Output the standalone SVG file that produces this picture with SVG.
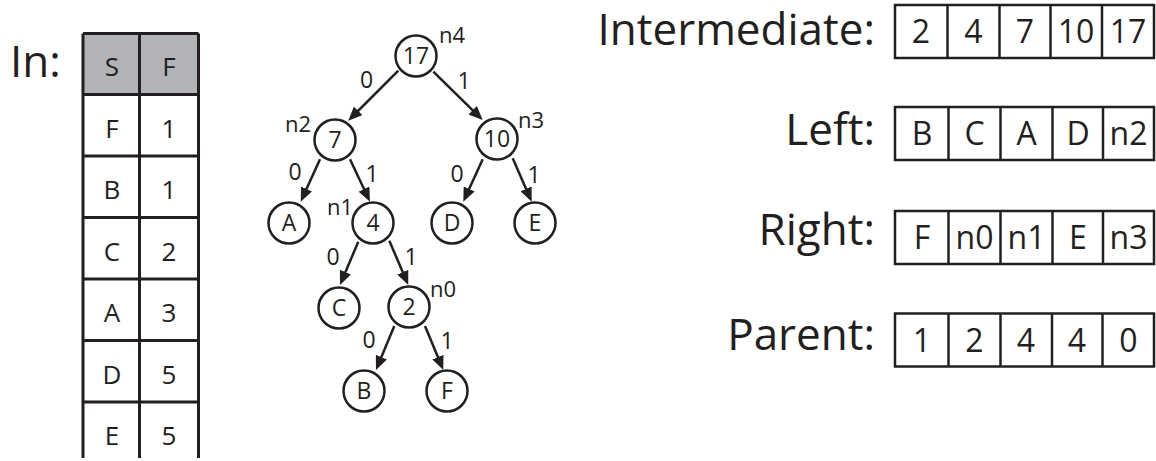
<svg xmlns="http://www.w3.org/2000/svg" width="1156" height="461" viewBox="0 0 1156 461">
<style>
  .t { font-family: "Open Sans", "Liberation Sans", sans-serif; fill: #231f20; }
  .big { font-size: 44px; }
  .lbl { font-size: 44px; text-anchor: end; }
  .cell { font-size: 26px; text-anchor: middle; }
  .arr { font-size: 32px; text-anchor: middle; }
  .node { font-size: 23px; text-anchor: middle; }
  .nm { font-size: 22px; }
  .el { font-size: 23px; text-anchor: middle; }
  .ln { stroke: #231f20; stroke-width: 3; fill: none; }
  .bx { stroke: #231f20; stroke-width: 2.5; fill: #ffffff; }
  .dv { stroke: #231f20; stroke-width: 2.5; }
  .circ { stroke: #231f20; stroke-width: 2.5; fill: #ffffff; }
  .edge { stroke: #231f20; stroke-width: 2.5; fill: none; marker-end: url(#ah); }
</style>
<defs>
  <marker id="ah" markerUnits="userSpaceOnUse" markerWidth="14" markerHeight="12" viewBox="0 0 14 12" refX="8" refY="6" orient="auto">
    <path d="M0,0 L14,6 L0,12 z" fill="#231f20"/>
  </marker>
</defs>
<rect width="1156" height="461" fill="#ffffff"/>

<!-- Input table -->
<g id="input-table">
  <text class="t big" x="10" y="77">In:</text>
  <rect x="83" y="33.5" width="115.5" height="61" fill="#b1b3b6"/>
  <line class="ln" x1="83" y1="33.5" x2="83" y2="458"/>
  <line class="ln" x1="139.5" y1="33.5" x2="139.5" y2="458"/>
  <line class="ln" x1="198.5" y1="33.5" x2="198.5" y2="458"/>
  <line class="ln" x1="83" y1="33.5" x2="198.5" y2="33.5"/>
  <line class="ln" x1="83" y1="94.5" x2="198.5" y2="94.5"/>
  <line class="ln" x1="83" y1="156" x2="198.5" y2="156"/>
  <line class="ln" x1="83" y1="217.5" x2="198.5" y2="217.5"/>
  <line class="ln" x1="83" y1="279" x2="198.5" y2="279"/>
  <line class="ln" x1="83" y1="340.5" x2="198.5" y2="340.5"/>
  <line class="ln" x1="83" y1="402" x2="198.5" y2="402"/>
  <text class="t cell" x="112" y="76">S</text><text class="t cell" x="169" y="76">F</text>
  <text class="t cell" x="112" y="137.5">F</text><text class="t cell" x="169" y="137.5">1</text>
  <text class="t cell" x="112" y="199">B</text><text class="t cell" x="169" y="199">1</text>
  <text class="t cell" x="112" y="260.5">C</text><text class="t cell" x="169" y="260.5">2</text>
  <text class="t cell" x="112" y="322">A</text><text class="t cell" x="169" y="322">3</text>
  <text class="t cell" x="112" y="383.5">D</text><text class="t cell" x="169" y="383.5">5</text>
  <text class="t cell" x="112" y="445">E</text><text class="t cell" x="169" y="445">5</text>
</g>

<!-- Connectors -->
<g id="connectors">
  <line class="edge" x1="398.3" y1="70.7" x2="352.5" y2="116.5"/>
  <line class="edge" x1="433.3" y1="71.7" x2="478.4" y2="115.8"/>
  <line class="edge" x1="320" y1="159.3" x2="303.2" y2="196.2"/>
  <line class="edge" x1="350" y1="159.3" x2="367.4" y2="196.3"/>
  <line class="edge" x1="482.7" y1="159.3" x2="465.8" y2="196.2"/>
  <line class="edge" x1="512.7" y1="158.3" x2="529.3" y2="196.2"/>
  <line class="edge" x1="358.3" y1="241.7" x2="342.3" y2="279.5"/>
  <line class="edge" x1="389.3" y1="240.7" x2="405.9" y2="279.5"/>
  <line class="edge" x1="394.3" y1="326" x2="378.3" y2="364.5"/>
  <line class="edge" x1="425" y1="326" x2="441" y2="364.5"/>
  <g id="edge-labels">
    <text class="t el" x="366.5" y="88">0</text>
    <text class="t el" x="464" y="89">1</text>
    <text class="t el" x="295" y="180">0</text>
    <text class="t el" x="372" y="182">1</text>
    <text class="t el" x="457" y="182">0</text>
    <text class="t el" x="534" y="183">1</text>
    <text class="t el" x="333" y="265">0</text>
    <text class="t el" x="411" y="265">1</text>
    <text class="t el" x="369" y="348">0</text>
    <text class="t el" x="447" y="349">1</text>
  </g>
</g>

<!-- Tree nodes -->
<g id="n4"><circle class="circ" cx="416" cy="56" r="20.5"/><text class="t node" x="416" y="64">17</text><text class="t nm" x="439" y="43">n4</text></g>
<g id="n2"><circle class="circ" cx="335" cy="140" r="20.5"/><text class="t node" x="335" y="148">7</text><text class="t nm" x="285" y="132">n2</text></g>
<g id="n3"><circle class="circ" cx="497" cy="139" r="20.5"/><text class="t node" x="497" y="147">10</text><text class="t nm" x="518" y="128">n3</text></g>
<g id="A"><circle class="circ" cx="289" cy="223" r="20.5"/><text class="t node" x="289" y="231">A</text></g>
<g id="n1"><circle class="circ" cx="373" cy="223" r="20.5"/><text class="t node" x="373" y="231">4</text><text class="t nm" x="327" y="215">n1</text></g>
<g id="D"><circle class="circ" cx="452" cy="223" r="20.5"/><text class="t node" x="452" y="231">D</text></g>
<g id="E"><circle class="circ" cx="535" cy="223" r="20.5"/><text class="t node" x="535" y="231">E</text></g>
<g id="C"><circle class="circ" cx="339" cy="308" r="20.5"/><text class="t node" x="339" y="316">C</text></g>
<g id="n0"><circle class="circ" cx="409" cy="307" r="20.5"/><text class="t node" x="409" y="315">2</text><text class="t nm" x="430" y="297">n0</text></g>
<g id="B"><circle class="circ" cx="364" cy="391" r="20.5"/><text class="t node" x="364" y="399">B</text></g>
<g id="F"><circle class="circ" cx="447" cy="391" r="20.5"/><text class="t node" x="447" y="399">F</text></g>

<!-- Arrays -->
<g id="intermediate">
  <text class="t lbl" x="875" y="45">Intermediate:</text>
  <rect class="bx" x="895" y="5" width="259" height="53"/>
  <line class="dv" x1="947.5" y1="5" x2="947.5" y2="58"/>
  <line class="dv" x1="999.5" y1="5" x2="999.5" y2="58"/>
  <line class="dv" x1="1050.5" y1="5" x2="1050.5" y2="58"/>
  <line class="dv" x1="1102" y1="5" x2="1102" y2="58"/>
  <text class="t arr" x="921" y="43">2</text>
  <text class="t arr" x="973.5" y="43">4</text>
  <text class="t arr" x="1025" y="43">7</text>
  <text class="t arr" x="1076" y="43">10</text>
  <text class="t arr" x="1128" y="43">17</text>
</g>
<g id="left">
  <text class="t lbl" x="875" y="145">Left:</text>
  <rect class="bx" x="895" y="107" width="259" height="53"/>
  <line class="dv" x1="948.5" y1="107" x2="948.5" y2="160"/>
  <line class="dv" x1="1000.5" y1="107" x2="1000.5" y2="160"/>
  <line class="dv" x1="1052.5" y1="107" x2="1052.5" y2="160"/>
  <line class="dv" x1="1103" y1="107" x2="1103" y2="160"/>
  <text class="t arr" x="922" y="145">B</text>
  <text class="t arr" x="974.5" y="145">C</text>
  <text class="t arr" x="1026.5" y="145">A</text>
  <text class="t arr" x="1078" y="145">D</text>
  <text class="t arr" x="1128.5" y="145">n2</text>
</g>
<g id="right">
  <text class="t lbl" x="875" y="245">Right:</text>
  <rect class="bx" x="895" y="211" width="259" height="53"/>
  <line class="dv" x1="948.5" y1="211" x2="948.5" y2="264"/>
  <line class="dv" x1="1000.5" y1="211" x2="1000.5" y2="264"/>
  <line class="dv" x1="1052.5" y1="211" x2="1052.5" y2="264"/>
  <line class="dv" x1="1103" y1="211" x2="1103" y2="264"/>
  <text class="t arr" x="922" y="249">F</text>
  <text class="t arr" x="974.5" y="249">n0</text>
  <text class="t arr" x="1026.5" y="249">n1</text>
  <text class="t arr" x="1078" y="249">E</text>
  <text class="t arr" x="1128.5" y="249">n3</text>
</g>
<g id="parent">
  <text class="t lbl" x="875" y="350">Parent:</text>
  <rect class="bx" x="895" y="313.5" width="259" height="53"/>
  <line class="dv" x1="948.5" y1="313.5" x2="948.5" y2="366.5"/>
  <line class="dv" x1="1000.5" y1="313.5" x2="1000.5" y2="366.5"/>
  <line class="dv" x1="1052" y1="313.5" x2="1052" y2="366.5"/>
  <line class="dv" x1="1102.5" y1="313.5" x2="1102.5" y2="366.5"/>
  <text class="t arr" x="922" y="352">1</text>
  <text class="t arr" x="974.5" y="352">2</text>
  <text class="t arr" x="1026" y="352">4</text>
  <text class="t arr" x="1077" y="352">4</text>
  <text class="t arr" x="1128.5" y="352">0</text>
</g>
</svg>
